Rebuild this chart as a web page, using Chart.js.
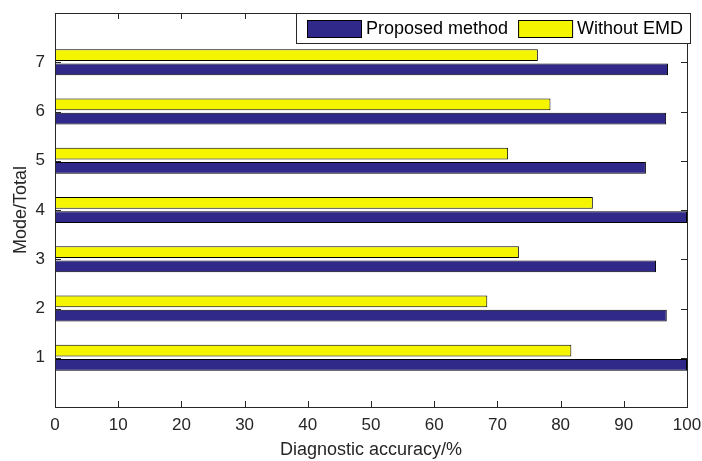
<!DOCTYPE html>
<html>
<head>
<meta charset="utf-8">
<script src="https://cdn.jsdelivr.net/npm/chart.js@4.4.0/dist/chart.umd.min.js"></script>
<style>
  html, body { margin: 0; padding: 0; background: #fff; }
  #wrap { width: 702px; height: 461px; }
</style>
</head>
<body>
<div id="wrap"><canvas id="barChart"></canvas></div>
<script>
// data
const modes = ['0', '1', '2', '3', '4', '5', '6', '7', '8'];
const proposedAcc = [null, 100, 96.8, 95.1, 100, 93.5, 96.7, 97.0, null];
const withoutEmdAcc = [null, 81.7, 68.4, 73.4, 85.1, 71.7, 78.4, 76.4, null];
const accMin = 0;
const accMax = 100;
const accStep = 10;

const fontFamily = '"Liberation Sans", Arial, Helvetica, sans-serif';
const axisColor = '#262626';

// box around the plot + inward tick marks (matlab look)
const boxTicks = {
  id: 'boxTicks',
  afterDatasetsDraw(chart) {
    const {ctx, chartArea, scales} = chart;
    const len = 6;
    ctx.save();
    ctx.strokeStyle = axisColor;
    ctx.lineWidth = 1;
    ctx.beginPath();
    scales.x.ticks.forEach((t, i) => {
      const px = Math.round(scales.x.getPixelForTick(i)) + 0.5;
      ctx.moveTo(px, chartArea.bottom);
      ctx.lineTo(px, chartArea.bottom - len);
      ctx.moveTo(px, chartArea.top);
      ctx.lineTo(px, chartArea.top + len);
    });
    scales.y.ticks.forEach((t, i) => {
      if (i === 0 || i === scales.y.ticks.length - 1) return;
      const py = Math.round(scales.y.getPixelForTick(i)) + 0.5;
      ctx.moveTo(chartArea.left, py);
      ctx.lineTo(chartArea.left + len, py);
      ctx.moveTo(chartArea.right, py);
      ctx.lineTo(chartArea.right - len, py);
    });
    ctx.stroke();
    ctx.strokeRect(Math.round(chartArea.left) + 0.5, Math.round(chartArea.top) + 0.5,
      Math.round(chartArea.width), Math.round(chartArea.height));
    ctx.restore();
  }
};

// legend in a box at the top right corner of the plot
const boxLegend = {
  id: 'boxLegend',
  afterDraw(chart) {
    const {ctx, chartArea} = chart;
    const items = [chart.data.datasets[1], chart.data.datasets[0]];
    ctx.save();
    ctx.font = '18px ' + fontFamily;
    const swW = 54, swH = 17, gap = 5, padL = 11, padR = 7, space = 10;
    let w = padL;
    items.forEach((d, i) => {
      w += swW + gap + ctx.measureText(d.label).width + (i < items.length - 1 ? space : padR);
    });
    const h = 30;
    const right = Math.round(chartArea.right) + 3;
    const left = right - Math.round(w);
    const top = Math.round(chartArea.top);
    ctx.fillStyle = '#fff';
    ctx.fillRect(left, top, right - left, h);
    ctx.strokeStyle = axisColor;
    ctx.lineWidth = 1;
    ctx.strokeRect(left + 0.5, top + 0.5, right - left, h);
    let x = left + padL;
    const cy = top + h / 2;
    items.forEach(d => {
      ctx.fillStyle = d.backgroundColor;
      ctx.fillRect(x, Math.round(cy - swH / 2), swW, swH);
      ctx.strokeStyle = '#000';
      ctx.strokeRect(x + 0.5, Math.round(cy - swH / 2) + 0.5, swW, swH);
      x += swW + gap;
      ctx.fillStyle = '#000';
      ctx.textBaseline = 'middle';
      ctx.fillText(d.label, x, cy + 1);
      x += ctx.measureText(d.label).width + space;
    });
    ctx.restore();
  }
};

const ctx1 = document.getElementById('barChart').getContext('2d');
const chartData1 = {
  labels: modes,
  datasets: [{
    label: 'Without EMD',
    data: withoutEmdAcc,
    backgroundColor: '#f5f500',
    borderColor: '#000',
    borderWidth: 1,
    borderSkipped: false
  }, {
    label: 'Proposed method',
    data: proposedAcc,
    backgroundColor: '#31298a',
    borderColor: '#000',
    borderWidth: 1,
    borderSkipped: false
  }]
};

const config1 = {
  type: 'bar',
  data: chartData1,
  options: {
    indexAxis: 'y',
    responsive: true,
    maintainAspectRatio: false,
    animation: false,
    categoryPercentage: 0.58,
    barPercentage: 0.82,
    layout: { padding: { left: 0, right: 15, top: 13, bottom: 0 } },
    plugins: {
      legend: { display: false },
      tooltip: { enabled: false }
    },
    scales: {
      x: {
        type: 'linear',
        min: accMin,
        max: accMax,
        ticks: {
          stepSize: accStep,
          color: axisColor,
          padding: 8,
          font: { family: fontFamily, size: 17 }
        },
        grid: { display: false, drawTicks: false },
        border: { display: false },
        title: {
          display: true,
          text: 'Diagnostic accuracy/%',
          color: axisColor,
          padding: { top: 1, bottom: 0 },
          font: { family: fontFamily, size: 18 }
        },
        afterFit(scale) {
          scale.height = 54;
          scale.paddingLeft = 0;
          scale.paddingRight = 0;
        }
      },
      y: {
        type: 'category',
        reverse: true,
        offset: false,
        ticks: {
          color: axisColor,
          padding: 10,
          autoSkip: false,
          font: { family: fontFamily, size: 17 },
          callback(value, index) {
            const lab = this.getLabelForValue(value);
            return (lab === modes[0] || lab === modes[modes.length - 1]) ? '' : lab;
          }
        },
        grid: { display: false, drawTicks: false },
        border: { display: false },
        title: {
          display: true,
          text: 'Mode/Total',
          color: axisColor,
          padding: { top: 10, bottom: 6 },
          font: { family: fontFamily, size: 18 }
        },
        afterFit(scale) {
          scale.width = 55;
          scale.paddingTop = 0;
          scale.paddingBottom = 0;
        }
      }
    }
  },
  plugins: [boxTicks, boxLegend]
};

const myChart1 = new Chart(ctx1, config1);
</script>
</body>
</html>
